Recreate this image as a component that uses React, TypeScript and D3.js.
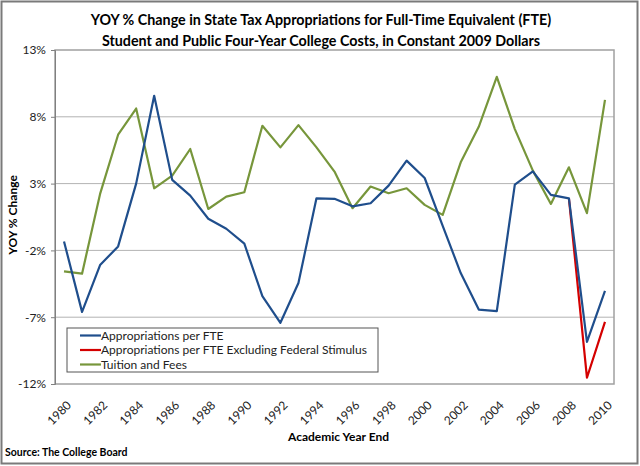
import React, { useEffect, useRef } from 'react';
import * as d3 from 'd3';

const years: number[] = d3.range(1980, 2011);

const appropriations: number[] = [
  -1.33, -6.6, -3.1, -1.7, 3.0, 9.57, 3.28, 2.1, 0.37, -0.38,
  -1.5, -5.43, -7.42, -4.44, 1.9, 1.86, 1.3, 1.53, 2.85, 4.72,
  3.42, -0.16, -3.7, -6.43, -6.55, 2.93, 3.92, 2.15, 1.9, -8.84,
  -5.03,
];

const exclStimulusYears: number[] = [2008, 2009, 2010];
const exclStimulus: number[] = [1.9, -11.53, -7.35];

const tuition: number[] = [
  -3.57, -3.74, 2.23, 6.66, 8.62, 2.65, 3.6, 5.59, 1.1, 2.03,
  2.35, 7.33, 5.71, 7.38, 5.71, 3.9, 1.16, 2.78, 2.28, 2.65,
  1.41, 0.66, 4.59, 7.25, 10.99, 7.08, 3.97, 1.48, 4.22, 0.79,
  9.27,
];

const yTicks: number[] = [13, 8, 3, -2, -7, -12];
const xTickYears: number[] = d3.range(1980, 2011, 2);

const seriesNames = [
  'Appropriations per FTE',
  'Appropriations per FTE Excluding Federal Stimulus',
  'Tuition and Fees',
];
const seriesColors = ['#1f4e8c', '#d40000', '#77963b'];

const FONT = 'Lato, "Open Sans", sans-serif';

const Chart: React.FC = () => {
  const ref = useRef<SVGSVGElement>(null);

  useEffect(() => {
    if (!ref.current) return;
    const svg = d3.select(ref.current);
    svg.selectAll('*').remove();

    const W = 640;
    const H = 466;
    const margin = { top: 50, right: 26, bottom: 82, left: 55 };
    const width = W - margin.left - margin.right;
    const height = H - margin.top - margin.bottom;

    // outer frame
    svg.append('rect')
      .attr('x', 1.5).attr('y', 1.5)
      .attr('width', 636).attr('height', 462)
      .attr('fill', 'white')
      .attr('stroke', '#7a7a7a')
      .attr('stroke-width', 2);

    svg.append('text')
      .attr('x', 321).attr('y', 25)
      .attr('text-anchor', 'middle')
      .style('font-family', FONT).style('font-size', '14.3px').style('font-weight', 'bold')
      .text('YOY % Change in State Tax Appropriations for Full-Time Equivalent (FTE)');
    svg.append('text')
      .attr('x', 321).attr('y', 46)
      .attr('text-anchor', 'middle')
      .style('font-family', FONT).style('font-size', '14.3px').style('font-weight', 'bold')
      .text('Student and Public Four-Year College Costs, in Constant 2009 Dollars');

    const g = svg.append('g').attr('transform', `translate(${margin.left},${margin.top})`);

    const x = d3.scaleBand<number>().domain(years).range([0, width]);
    const xc = (yr: number) => (x(yr) as number) + x.bandwidth() / 2;
    const y = d3.scaleLinear().domain([-12, 13]).range([height, 0]);

    // gridlines
    g.selectAll('line.grid')
      .data(yTicks.filter(t => t !== 13 && t !== -12))
      .enter().append('line')
      .attr('x1', 0).attr('x2', width)
      .attr('y1', d => y(d)).attr('y2', d => y(d))
      .attr('stroke', '#b3b3b3').attr('stroke-width', 1);

    // plot border
    g.append('rect')
      .attr('x', 0).attr('y', 0)
      .attr('width', width).attr('height', height)
      .attr('fill', 'none')
      .attr('stroke', '#a0a0a0').attr('stroke-width', 1.5);

    // y axis
    const yAxis = g.append('g')
      .call(d3.axisLeft(y).tickValues(yTicks).tickSize(4).tickFormat(d => `${d}%`));
    yAxis.select('.domain').attr('stroke', '#808080');
    yAxis.selectAll('.tick line').attr('stroke', '#808080');
    yAxis.selectAll('.tick text')
      .attr('x', -9)
      .style('font-family', FONT).style('font-size', '12px').attr('fill', '#222');

    // x axis labels
    g.selectAll('text.xl')
      .data(xTickYears)
      .enter().append('text')
      .attr('transform', d => `translate(${xc(d) + 5},${height + 19}) rotate(-45)`)
      .attr('text-anchor', 'end')
      .attr('dy', '0.35em')
      .style('font-family', FONT).style('font-size', '12px').attr('fill', '#222')
      .text(d => d);

    g.append('text')
      .attr('x', width / 2 + 4).attr('y', height + 57)
      .attr('text-anchor', 'middle')
      .style('font-family', FONT).style('font-size', '12px').style('font-weight', 'bold')
      .text('Academic Year End');

    svg.append('text')
      .attr('transform', `translate(17,${margin.top + height / 2 - 2}) rotate(-90)`)
      .attr('text-anchor', 'middle')
      .style('font-family', FONT).style('font-size', '12px').style('font-weight', 'bold')
      .text('YOY % Change');

    svg.append('text')
      .attr('x', 5).attr('y', 456)
      .style('font-family', FONT).style('font-size', '10.5px').style('font-weight', 'bold')
      .text('Source: The College Board');

    // lines
    const line = d3.line<[number, number]>()
      .x(d => xc(d[0]))
      .y(d => y(d[1]));

    const seriesData: [number, number][][] = [
      years.map((yr, i) => [yr, appropriations[i]]),
      exclStimulusYears.map((yr, i) => [yr, exclStimulus[i]]),
      years.map((yr, i) => [yr, tuition[i]]),
    ];

    [2, 1, 0].forEach(k => {
      g.append('path')
        .datum(seriesData[k])
        .attr('fill', 'none')
        .attr('stroke', seriesColors[k])
        .attr('stroke-width', 2.2)
        .attr('stroke-linejoin', 'round')
        .attr('d', line);
    });

    // legend
    const lg = svg.append('g').attr('transform', 'translate(67,328)');
    lg.append('rect')
      .attr('width', 311).attr('height', 44)
      .attr('fill', 'white')
      .attr('stroke', '#555').attr('stroke-width', 1);
    seriesNames.forEach((name, i) => {
      const yy = 7.5 + i * 14.5;
      lg.append('line')
        .attr('x1', 13).attr('x2', 34)
        .attr('y1', yy).attr('y2', yy)
        .attr('stroke', seriesColors[i]).attr('stroke-width', 2.2);
      lg.append('text')
        .attr('x', 34).attr('y', yy).attr('dy', '0.35em')
        .style('font-family', FONT).style('font-size', '12px').attr('fill', '#222')
        .text(name);
    });
  }, []);

  return <svg ref={ref} width={640} height={466} style={{ display: 'block' }} />;
};

export default function App() {
  return (
    <>
      <style>{'html, body { margin: 0; padding: 0; overflow: hidden; }'}</style>
      <Chart />
    </>
  );
}
